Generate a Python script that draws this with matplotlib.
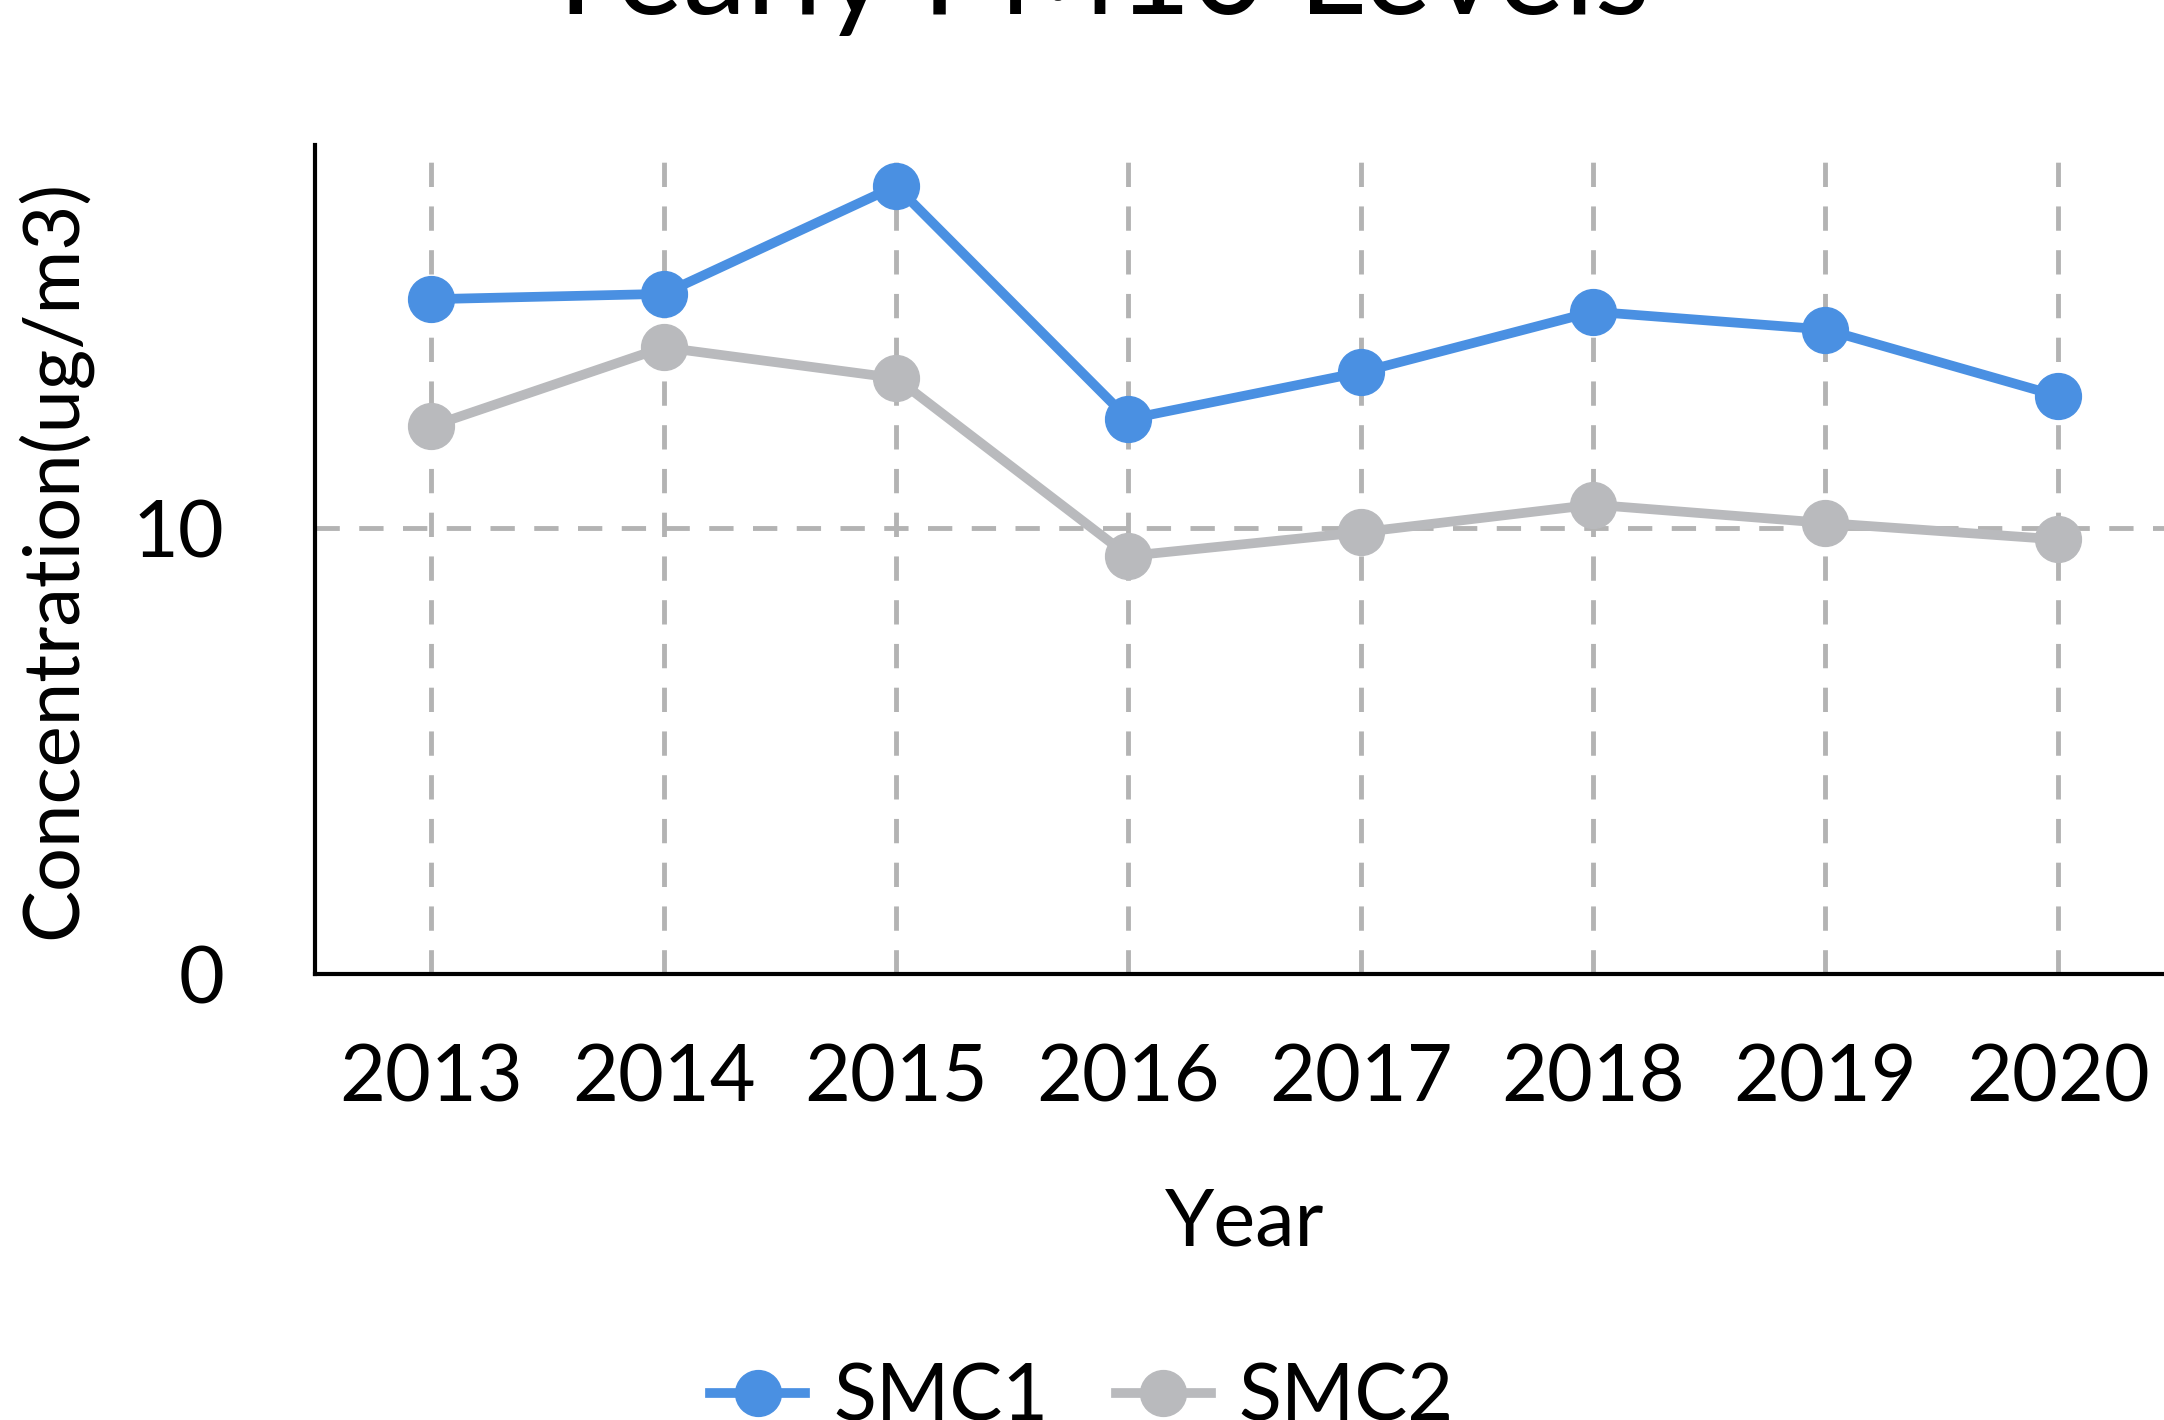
import matplotlib
matplotlib.use("Agg")
import matplotlib.pyplot as plt

plt.rcParams['font.family'] = ['Lato', 'DejaVu Sans']

years = [2013, 2014, 2015, 2016, 2017, 2018, 2019, 2020]
smc1 = [15.14, 15.26, 17.68, 12.45, 13.50, 14.86, 14.46, 12.97]
smc2 = [12.29, 14.06, 13.37, 9.38, 9.91, 10.53, 10.12, 9.75]
yticks = [0, 10]
title = "Yearly PM10 Levels"

BLUE = "#4a90e2"
GRAY = "#b9babd"
GRID = "#b3b3b3"

fig = plt.figure(figsize=(21.64, 14.2), dpi=100)
ax = fig.add_axes([315/2164, (1420-974)/1420, (2174-315)/2164, (974-145)/1420])

xs = list(range(len(years)))
ax.plot(xs, smc1, color=BLUE, lw=7, marker='o', ms=33, label='SMC1', zorder=4, clip_on=False)
ax.plot(xs, smc2, color=GRAY, lw=7, marker='o', ms=33, label='SMC2', zorder=3, clip_on=False)

ax.set_xlim(-0.5, len(years) - 0.5)
ax.set_ylim(0, 18.6)
ax.set_xticks(xs)
ax.set_xticklabels([str(y) for y in years])
ax.set_yticks(yticks)
ax.set_yticklabels([str(t) for t in yticks])

ax.grid(True, axis='both', color=GRID, lw=3.5, linestyle=(0, (5.0, 4.0)), zorder=1)
ax.set_axisbelow(True)

for s in ['top', 'right']:
    ax.spines[s].set_visible(False)
for s in ['left', 'bottom']:
    ax.spines[s].set_linewidth(3)
    ax.spines[s].set_color('black')

ax.tick_params(axis='both', length=0, labelsize=57)
ax.tick_params(axis='y', pad=65)
ax.tick_params(axis='x', pad=50)

ax.set_xlabel("Year", fontsize=57, labelpad=52)
ax.set_ylabel("Concentration(ug/m3)", fontsize=56, labelpad=30)

fig.text(0.505, 1 - 14/1420, title, ha='center', va='baseline', fontsize=92)

fig.legend(loc='upper center', bbox_to_anchor=(0.5, 1 - 1291/1420), ncol=2, frameon=False,
           fontsize=57, handlelength=1.2, columnspacing=0.85, handletextpad=0.35, markerscale=1.0)

fig.savefig("out.png", dpi=100)
